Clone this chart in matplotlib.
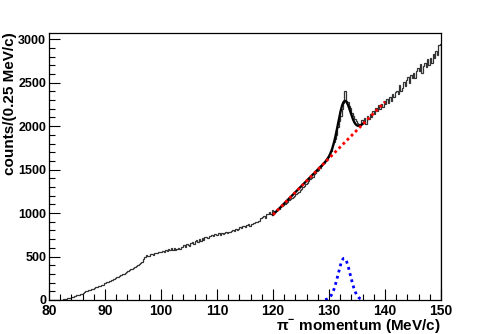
"""Pi- momentum spectrum with a gaussian + linear fit, ROOT-like look."""
import numpy as np
import matplotlib
matplotlib.use("Agg")
from matplotlib import pyplot as plt
from matplotlib.ticker import MultipleLocator

plt.rcParams['font.family'] = ['Liberation Sans', 'DejaVu Sans']
plt.rcParams['mathtext.fontset'] = 'custom'
plt.rcParams['mathtext.rm'] = 'Liberation Sans'
plt.rcParams['mathtext.bf'] = 'Liberation Sans:bold'

# histogram: 0.25 MeV/c bins from 80 to 150 MeV/c
bin_edges_low = 80.0
bin_width = 0.25
counts = [
    0, 0, 0, 0, 0, 0, 0, 0, 2, 4, 6, 9, 14, 18, 22, 28, 34, 38, 44, 52,
    58, 62, 68, 74, 86, 92, 98, 104, 112, 120, 128, 132, 140, 148, 152, 156, 164, 170, 176, 190,
    196, 205, 212, 220, 228, 235, 246, 252, 262, 268, 276, 286, 296, 302, 312, 320, 332, 340, 354, 362,
    372, 385, 392, 400, 412, 425, 440, 468, 492, 520, 505, 512, 528, 530, 522, 538, 540, 545, 552, 548,
    550, 568, 552, 580, 566, 584, 570, 596, 578, 600, 576, 590, 604, 592, 612, 606, 630, 612, 648, 628,
    622, 656, 668, 648, 676, 688, 664, 700, 684, 712, 694, 720, 730, 718, 742, 736, 752, 740, 764, 748,
    746, 768, 752, 776, 760, 776, 784, 766, 786, 778, 798, 806, 796, 816, 808, 820, 836, 826, 846, 852,
    842, 866, 872, 856, 880, 872, 890, 900, 892, 914, 904, 940, 958, 968, 940, 990, 985, 1010, 990, 1040,
    1005, 1020, 1035, 1048, 1050, 1065, 1078, 1095, 1105, 1118, 1130, 1150, 1158, 1175, 1190, 1198, 1220, 1235, 1248, 1262,
    1275, 1300, 1310, 1330, 1345, 1370, 1388, 1405, 1420, 1445, 1465, 1480, 1495, 1520, 1540, 1560, 1580, 1600, 1625, 1650,
    1680, 1720, 1780, 1820, 1850, 1900, 1990, 2060, 2120, 2200, 2270, 2400, 2290, 2280, 2230, 2210, 2150, 2120, 2080, 2060,
    2040, 2030, 2010, 2070, 2040, 2090, 2030, 2120, 2080, 2140, 2100, 2180, 2140, 2210, 2170, 2240, 2200, 2260, 2220, 2290,
    2250, 2310, 2270, 2330, 2290, 2370, 2330, 2390, 2410, 2370, 2470, 2410, 2440, 2510, 2460, 2530, 2570, 2500, 2590, 2550,
    2610, 2550, 2630, 2670, 2630, 2710, 2610, 2690, 2730, 2680, 2770, 2700, 2780, 2730, 2830, 2790, 2870, 2820, 2930, 2950,
]

# fit parameters: linear background + gaussian peak
bg_ref_x = 120.0
bg_at_ref = 980.0
bg_slope = 65.0
peak_amp = 480.0
peak_mean = 132.7
peak_sigma = 1.1
fit_range = (120.0, 136.0)
bg_range = (120.0, 140.0)
peak_draw_range = (129.3, 136.1)


def background(x):
    return bg_at_ref + bg_slope * (x - bg_ref_x)


def peak(x):
    return peak_amp * np.exp(-0.5 * ((x - peak_mean) / peak_sigma) ** 2)


fig = plt.figure(figsize=(4.91, 3.34), dpi=100)
ax = fig.add_axes([49 / 491, 34 / 334, 392 / 491, 267 / 334])

edges = bin_edges_low + bin_width * np.arange(len(counts) + 1)
ax.stairs(counts, edges, color='#333333', linewidth=0.9)

xf = np.linspace(*fit_range, 300)
ax.plot(xf, background(xf) + peak(xf), color='black', linewidth=1.7)

xb = np.linspace(*bg_range, 100)
ax.plot(xb, background(xb), color='red', linewidth=2.0, linestyle=(0, (1, 1.1)))

xg = np.linspace(*peak_draw_range, 200)
ax.plot(xg, peak(xg), color='blue', linewidth=2.0, linestyle=(0, (1, 1.3)))

ax.set_xlim(80, 150)
ax.set_ylim(0, 3072)
ax.xaxis.set_major_locator(MultipleLocator(10))
ax.xaxis.set_minor_locator(MultipleLocator(2))
ax.yaxis.set_major_locator(MultipleLocator(500))
ax.yaxis.set_minor_locator(MultipleLocator(100))
ax.tick_params(which='both', direction='in', top=False, right=False, width=0.8)
ax.tick_params(which='major', length=8, pad=2)
ax.tick_params(which='minor', length=4)
ax.tick_params(axis='y', labelsize=9)
ax.tick_params(axis='x', labelsize=10, pad=3)
for lab in ax.get_xticklabels() + ax.get_yticklabels():
    lab.set_fontweight('bold')
for sp in ax.spines.values():
    sp.set_linewidth(0.9)

# axis titles, ROOT style: right/top aligned
fig.text(441 / 491, 4 / 334, r'π$^{\mathbf{-}}$ momentum (MeV/c)', fontsize=11,
         fontweight='bold', ha='right', va='baseline')
fig.text(10 / 491, (334 - 32) / 334, 'counts/(0.25 MeV/c)', fontsize=11,
         fontweight='bold', rotation=90, ha='center', va='top')

fig.savefig('out.png', dpi=100)
